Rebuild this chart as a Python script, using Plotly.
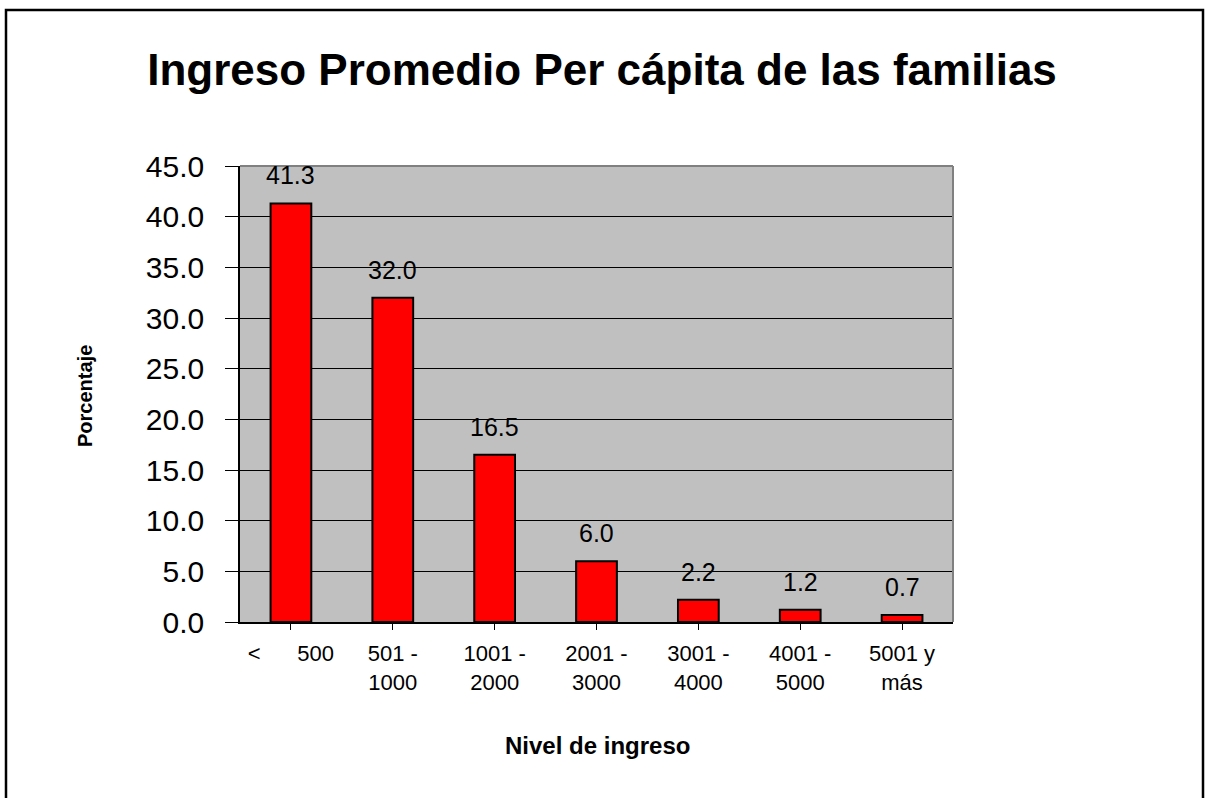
import plotly.graph_objects as go

categories = ["<\u00a0\u00a0\u00a0\u00a0\u00a0\u00a0500", "501 -<br>1000", "1001 -<br>2000", "2001 -<br>3000",
              "3001 -<br>4000", "4001 -<br>5000", "5001 y<br>más"]
values = [41.3, 32.0, 16.5, 6.0, 2.2, 1.2, 0.7]
y_ticks = [0, 5, 10, 15, 20, 25, 30, 35, 40, 45]

W, H = 1209, 798
L, R, T, B = 240, 953, 166, 622
pw, ph = R - L, B - T

def px_x(x):
    return (x - L) / pw

def px_y(y):
    return (B - y) / ph

font = "Liberation Sans, Arial, sans-serif"

fig = go.Figure()
fig.add_trace(go.Bar(
    x=list(range(len(categories))), y=values,
    marker=dict(color="#FF0000", line=dict(color="black", width=2)),
    width=0.4, hoverinfo="skip"))

for i, v in enumerate(values):
    fig.add_annotation(x=i, y=v, text=f"{v:.1f}", showarrow=False,
                       yanchor="bottom", yshift=12,
                       font=dict(family=font, size=25, color="black"))

fig.update_layout(
    width=W, height=H,
    margin=dict(l=L, r=W - R, t=T, b=H - B),
    paper_bgcolor="white", plot_bgcolor="#C0C0C0",
    showlegend=False,
    title=dict(text="<b>Ingreso Promedio Per cápita de las familias</b>",
               x=602 / W, xref="container", xanchor="center",
               y=1 - 70 / H, yref="container", yanchor="middle",
               font=dict(family=font, size=44, color="black")),
    xaxis=dict(tickmode="array", tickvals=list(range(len(categories))), ticktext=categories,
               range=[-0.5, len(categories) - 0.5],
               showgrid=False, showline=True, linecolor="black", linewidth=1.5,
               ticks="outside", ticklen=6, tickcolor="black", tickwidth=1,
               tickson="boundaries", ticklabelstandoff=5,
               tickfont=dict(family=font, size=22, color="black"), zeroline=False),
    yaxis=dict(range=[0, 45], tickvals=y_ticks, tickformat=".1f",
               showgrid=True, gridcolor="black", gridwidth=1,
               showline=True, linecolor="black", linewidth=1.5,
               ticks="outside", ticklen=13, tickcolor="black", tickwidth=1,
               ticklabelstandoff=15,
               tickfont=dict(family=font, size=30, color="black"), zeroline=False),
    font=dict(family=font, color="black"),
)

# plot-area top/right border (gray)
fig.add_shape(type="line", xref="paper", yref="paper", x0=0, x1=1, y0=1, y1=1,
              line=dict(color="#808080", width=2))
fig.add_shape(type="line", xref="paper", yref="paper", x0=1, x1=1, y0=0, y1=1,
              line=dict(color="#808080", width=2))

# outer chart border
fig.add_shape(type="rect", xref="paper", yref="paper",
              x0=px_x(6), x1=px_x(1203), y0=px_y(805), y1=px_y(10),
              line=dict(color="black", width=2.5), fillcolor="rgba(0,0,0,0)")

fig.add_annotation(text="<b>Porcentaje</b>", xref="paper", yref="paper",
                   x=px_x(85), y=px_y(396), textangle=-90, showarrow=False,
                   xanchor="center", yanchor="middle",
                   font=dict(family=font, size=20, color="black"))
fig.add_annotation(text="<b>Nivel de ingreso</b>", xref="paper", yref="paper",
                   x=px_x(597), y=px_y(745), showarrow=False,
                   xanchor="center", yanchor="middle",
                   font=dict(family=font, size=24, color="black"))

fig.write_html("out.html", config={"displayModeBar": False},
               post_script="document.body.style.margin='0';document.body.style.overflow='hidden';")
